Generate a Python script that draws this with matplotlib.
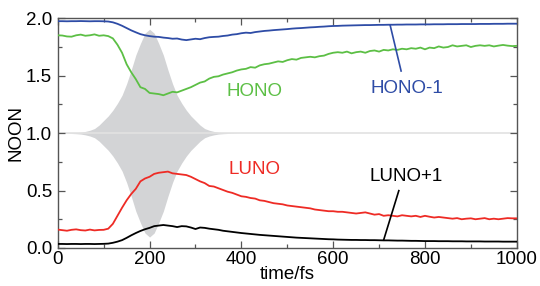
"""
NOON time evolution of the frontier natural orbitals under the pump pulse.
"""
import numpy as np
import matplotlib
matplotlib.use('Agg')
import matplotlib.pyplot as plt
from matplotlib.ticker import MultipleLocator, FormatStrFormatter

plt.rcParams['font.family'] = ['Liberation Sans', 'DejaVu Sans']

# time grid of the traces (fs)
time_fs = list(range(0, 1001, 10))

hono_m1 = [1.975, 1.975, 1.974, 1.975, 1.975, 1.976, 1.975, 1.974, 1.975, 1.975, 1.974, 1.972,
           1.965, 1.952, 1.935, 1.915, 1.895, 1.878, 1.862, 1.852, 1.845,
           1.840, 1.838, 1.832, 1.828, 1.822, 1.824, 1.815, 1.810, 1.816, 1.822,
           1.818, 1.828, 1.835, 1.838, 1.840, 1.846, 1.850, 1.858, 1.862, 1.870,
           1.875, 1.872, 1.880, 1.885, 1.890, 1.893, 1.897, 1.900, 1.903, 1.906,
           1.910, 1.913, 1.915, 1.918, 1.921, 1.923, 1.926, 1.928, 1.931, 1.933,
           1.934, 1.936, 1.937, 1.938, 1.939, 1.940, 1.941, 1.941, 1.942, 1.943,
           1.943, 1.944, 1.944, 1.945, 1.945, 1.946, 1.946, 1.946, 1.947, 1.947,
           1.947, 1.948, 1.948, 1.948, 1.949, 1.949, 1.949, 1.950, 1.950, 1.950,
           1.950, 1.951, 1.951, 1.951, 1.952, 1.952, 1.952, 1.953, 1.953, 1.953]

hono = [1.852, 1.850, 1.842, 1.840, 1.852, 1.858, 1.848, 1.852, 1.860, 1.848, 1.852, 1.845,
        1.825, 1.770, 1.700, 1.600, 1.530, 1.470, 1.400, 1.385, 1.350,
        1.345, 1.340, 1.330, 1.345, 1.360, 1.355, 1.370, 1.385, 1.400, 1.420,
        1.440, 1.450, 1.475, 1.490, 1.495, 1.510, 1.520, 1.530, 1.545, 1.555,
        1.560, 1.575, 1.570, 1.590, 1.600, 1.605, 1.615, 1.625, 1.620, 1.635,
        1.645, 1.640, 1.655, 1.660, 1.665, 1.660, 1.670, 1.675, 1.690, 1.700,
        1.705, 1.700, 1.710, 1.695, 1.705, 1.710, 1.700, 1.715, 1.720, 1.710,
        1.725, 1.720, 1.730, 1.725, 1.735, 1.730, 1.740, 1.735, 1.745, 1.730,
        1.745, 1.740, 1.755, 1.745, 1.750, 1.765, 1.755, 1.760, 1.765, 1.750,
        1.760, 1.765, 1.760, 1.765, 1.755, 1.762, 1.768, 1.762, 1.758, 1.760]

luno = [0.160, 0.155, 0.150, 0.158, 0.162, 0.155, 0.152, 0.160, 0.153, 0.157, 0.158, 0.168,
        0.210, 0.280, 0.350, 0.415, 0.470, 0.515, 0.580, 0.605, 0.620,
        0.645, 0.655, 0.660, 0.665, 0.650, 0.645, 0.640, 0.635, 0.620, 0.600,
        0.580, 0.565, 0.540, 0.535, 0.520, 0.505, 0.490, 0.480, 0.465, 0.450,
        0.445, 0.435, 0.430, 0.415, 0.410, 0.400, 0.390, 0.385, 0.380, 0.370,
        0.365, 0.360, 0.355, 0.350, 0.345, 0.335, 0.330, 0.325, 0.320, 0.320,
        0.315, 0.315, 0.310, 0.305, 0.300, 0.305, 0.310, 0.300, 0.290, 0.295,
        0.280, 0.285, 0.280, 0.275, 0.285, 0.280, 0.275, 0.280, 0.270, 0.280,
        0.272, 0.265, 0.270, 0.265, 0.260, 0.255, 0.260, 0.250, 0.255, 0.258,
        0.250, 0.255, 0.260, 0.250, 0.255, 0.250, 0.255, 0.260, 0.258, 0.258]

luno_p1 = [0.035, 0.035, 0.034, 0.035, 0.035, 0.034, 0.035, 0.035, 0.034, 0.035, 0.036, 0.038,
           0.045, 0.055, 0.068, 0.088, 0.110, 0.130, 0.148, 0.163, 0.175,
           0.190, 0.195, 0.200, 0.195, 0.190, 0.182, 0.190, 0.188, 0.178, 0.165,
           0.178, 0.175, 0.168, 0.163, 0.158, 0.150, 0.145, 0.140, 0.135, 0.130,
           0.126, 0.122, 0.118, 0.114, 0.111, 0.108, 0.105, 0.102, 0.099, 0.096,
           0.093, 0.090, 0.088, 0.086, 0.084, 0.082, 0.080, 0.078, 0.076, 0.075,
           0.073, 0.072, 0.071, 0.070, 0.070, 0.069, 0.069, 0.068, 0.068, 0.067,
           0.066, 0.066, 0.065, 0.064, 0.064, 0.063, 0.062, 0.062, 0.061, 0.060,
           0.060, 0.060, 0.059, 0.059, 0.059, 0.058, 0.058, 0.058, 0.057, 0.057,
           0.057, 0.057, 0.056, 0.056, 0.056, 0.056, 0.055, 0.055, 0.055, 0.055]

# pump pulse envelope (half height around NOON = 1)
pulse_t = list(range(0, 401, 10))
pulse_amp = [0.000, 0.001, 0.002, 0.003, 0.005, 0.008, 0.015, 0.025, 0.040, 0.070,
             0.110, 0.150, 0.200, 0.260, 0.330, 0.430, 0.550, 0.680, 0.780, 0.870,
             0.905,
             0.870, 0.780, 0.680, 0.550, 0.430, 0.330, 0.260, 0.200, 0.150, 0.110,
             0.070, 0.040, 0.025, 0.015, 0.008, 0.005, 0.003, 0.002, 0.001, 0.000]

BLUE = '#2e4ca6'
GREEN = '#5cbf45'
RED = '#ee2b25'
FS = 13.5

fig = plt.figure(figsize=(5.4, 2.86), dpi=100)
ax = fig.add_axes([0.107, 0.133, 0.85, 0.803])

pt = np.array(pulse_t)
pa = np.array(pulse_amp)
ax.fill_between(pt, 1 - pa, 1 + pa, color='#d3d4d6', lw=0, zorder=1)
ax.axhline(1.0, color='#e2e2e2', lw=1.2, zorder=1)

ax.plot(time_fs, hono_m1, color=BLUE, lw=1.3, zorder=3)
ax.plot(time_fs, hono, color=GREEN, lw=1.3, zorder=3)
ax.plot(time_fs, luno, color=RED, lw=1.3, zorder=3)
ax.plot(time_fs, luno_p1, color='black', lw=1.3, zorder=3)

# labels and leader lines
ax.text(428, 1.36, 'HONO', color=GREEN, fontsize=FS, ha='center', va='center')
ax.text(428, 0.68, 'LUNO', color=RED, fontsize=FS, ha='center', va='center')
ax.text(760, 1.39, 'HONO-1', color=BLUE, fontsize=FS, ha='center', va='center')
ax.text(760, 0.62, 'LUNO+1', color='black', fontsize=FS, ha='center', va='center')
ax.plot([724, 748], [1.942, 1.541], color=BLUE, lw=1.2, zorder=4)
ax.plot([710, 743], [0.070, 0.499], color='black', lw=1.2, zorder=4)

ax.set_xlim(0, 1000)
ax.set_ylim(0, 2.0)
ax.xaxis.set_major_locator(MultipleLocator(200))
ax.xaxis.set_minor_locator(MultipleLocator(100))
ax.yaxis.set_major_locator(MultipleLocator(0.5))
ax.yaxis.set_minor_locator(MultipleLocator(0.25))
ax.yaxis.set_major_formatter(FormatStrFormatter('%.1f'))
ax.tick_params(which='both', direction='in', top=True, right=True,
               color='#555555', labelsize=FS)
ax.tick_params(axis='x', pad=2)
ax.tick_params(axis='y', pad=4)
ax.tick_params(which='major', length=5, width=0.9)
ax.tick_params(which='minor', length=3, width=0.9)
for s in ax.spines.values():
    s.set_color('#555555')
    s.set_linewidth(1.0)

ax.set_xlabel('time/fs', fontsize=FS, labelpad=-1)
ax.set_ylabel('NOON', fontsize=FS, labelpad=1)

fig.savefig('out.png', dpi=100)
